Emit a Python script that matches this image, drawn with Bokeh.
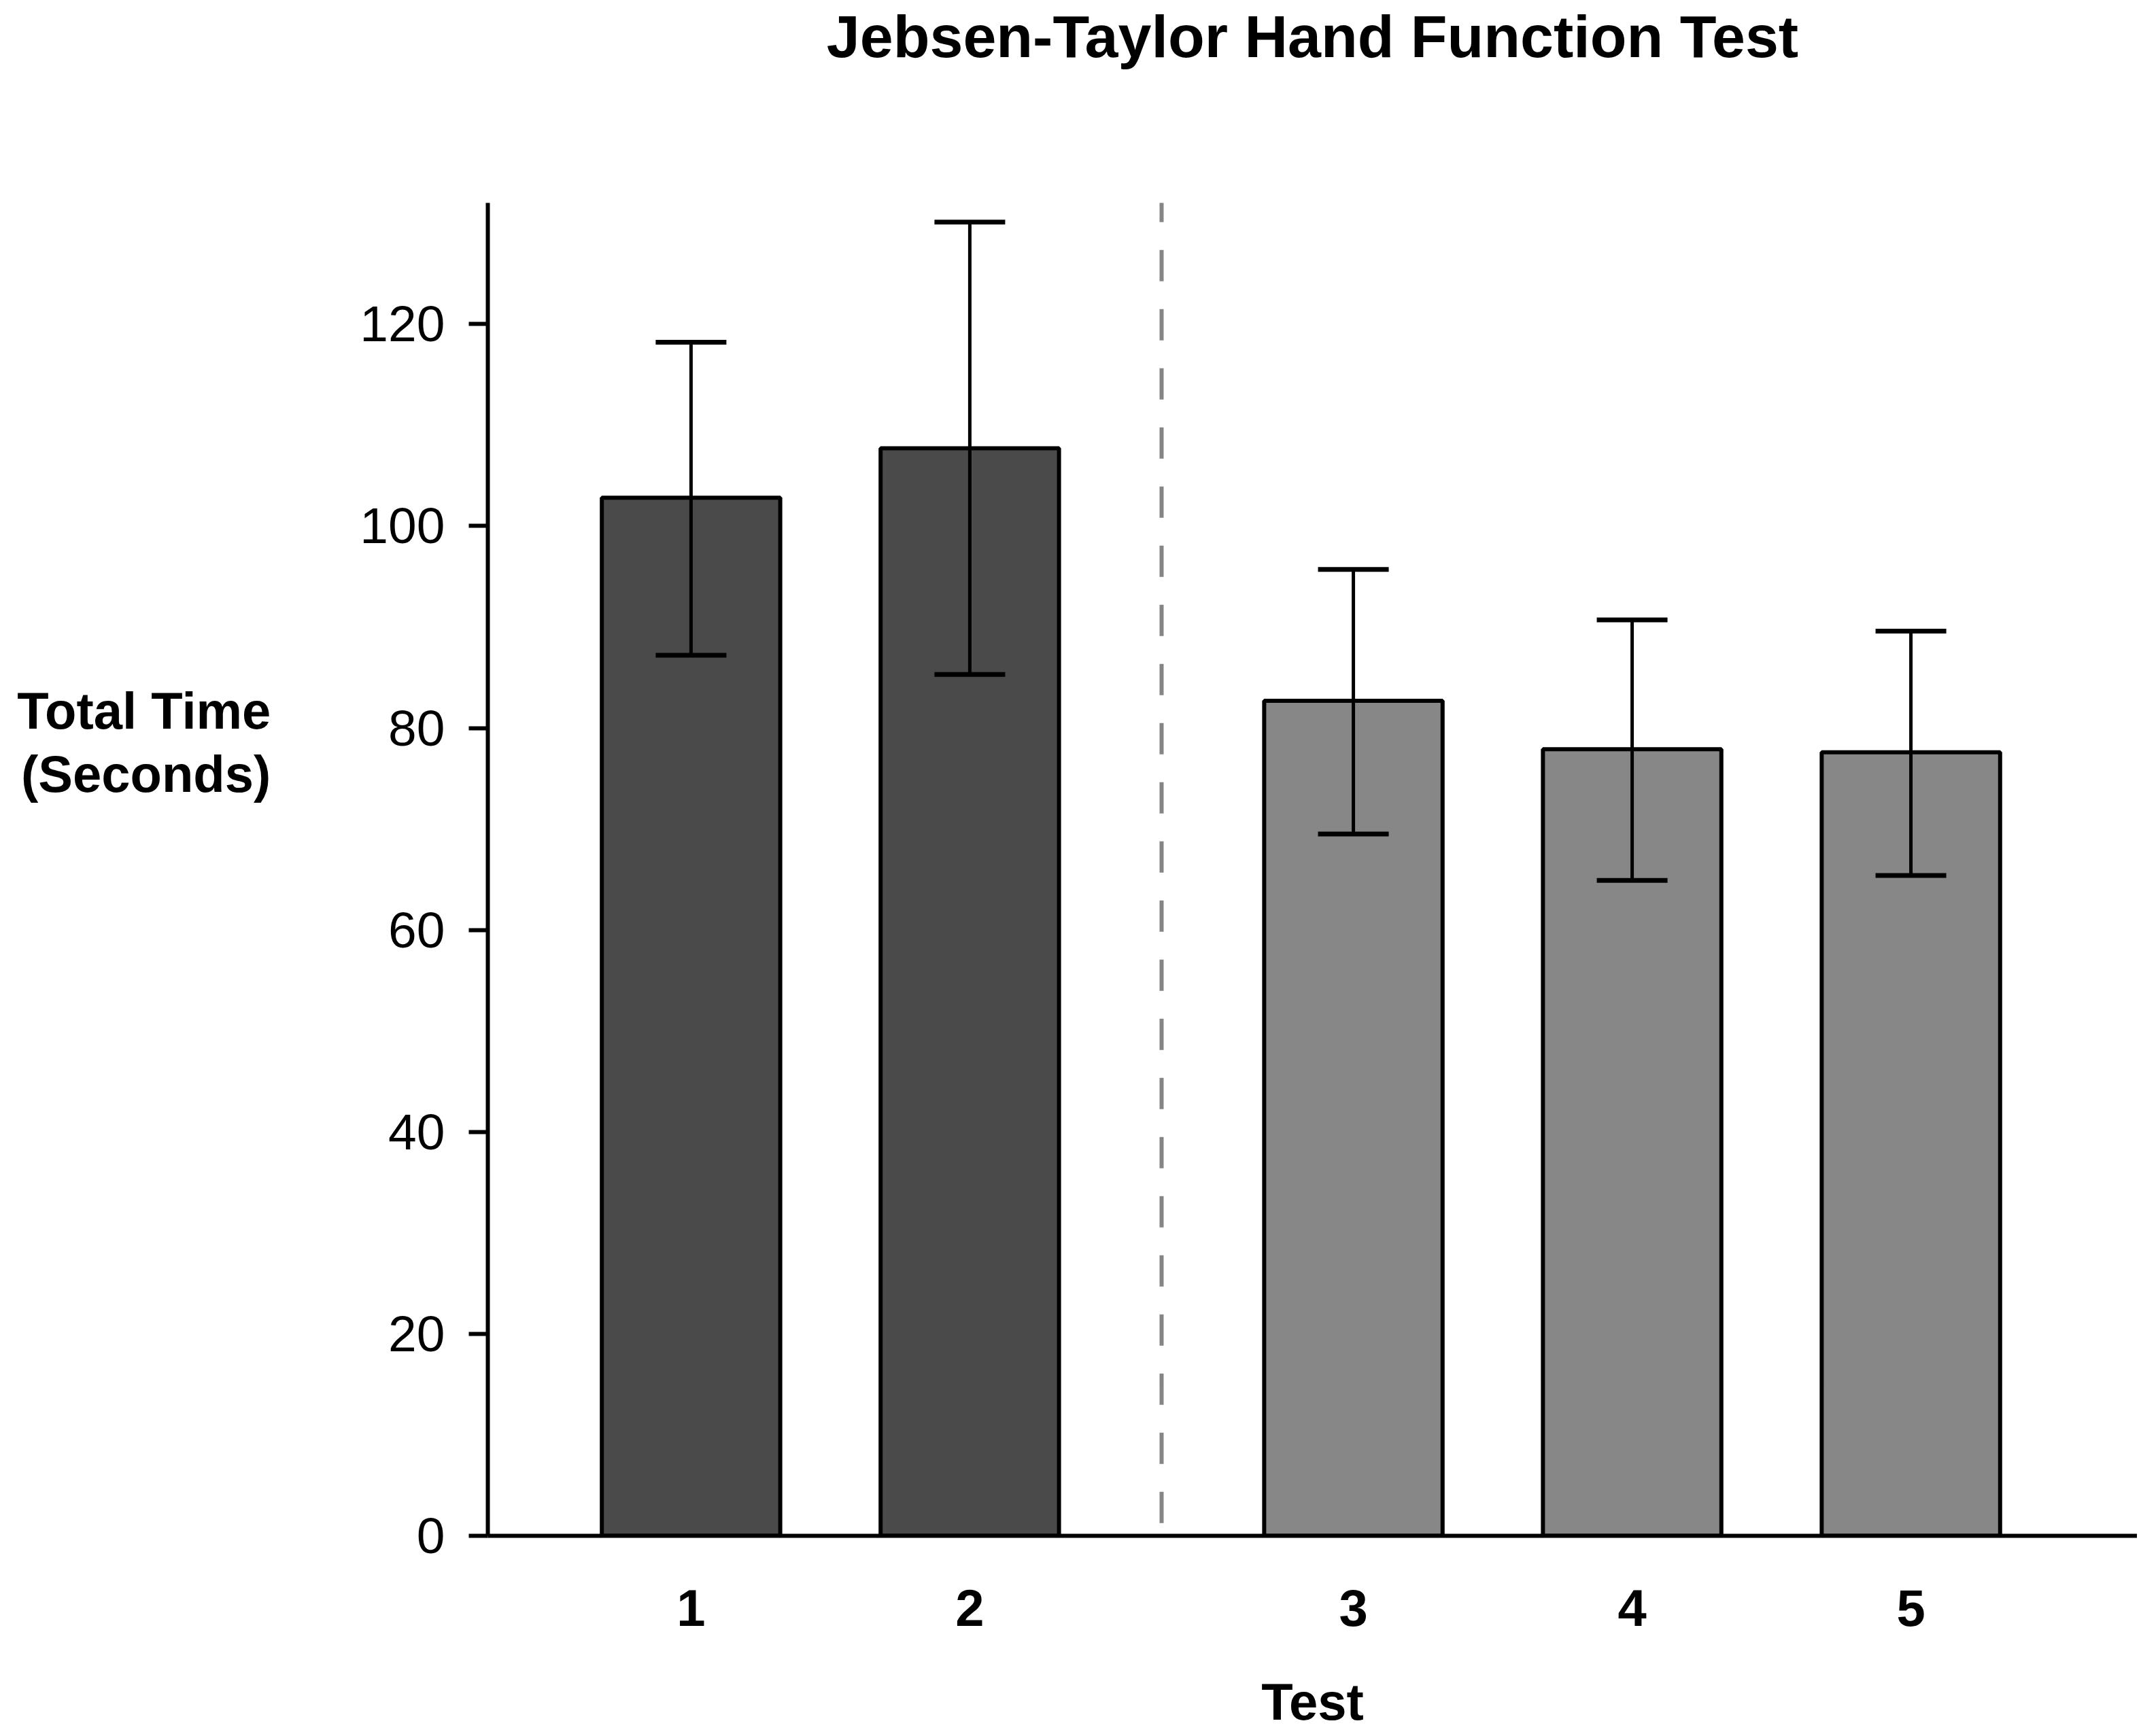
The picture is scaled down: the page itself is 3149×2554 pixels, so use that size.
from bokeh.plotting import figure
from bokeh.models import ColumnDataSource, Whisker, TeeHead, FixedTicker, LinearAxis
from bokeh.embed import file_html
from bokeh.resources import INLINE

# ---- data ----
tests = ["1", "2", "3", "4", "5"]
means = [102.8, 107.7, 82.7, 77.9, 77.6]
upper = [118.2, 130.1, 95.7, 90.7, 89.6]
lower = [87.2, 85.3, 69.5, 64.9, 65.4]
groups = ["A", "A", "B", "B", "B"]
y_ticks = [0, 20, 40, 60, 80, 100, 120]

# ---- layout constants ----
group_gap = 0.376
group_colors = {"A": "#4a4a4a", "B": "#878787"}
FONT = "Liberation Sans"
W, H = 3143, 2552

xpos = [i + 1 + (group_gap if g == "B" else 0.0) for i, g in enumerate(groups)]
colors = [group_colors[g] for g in groups]

src = ColumnDataSource(dict(x=xpos, top=means, upper=upper, lower=lower,
                            color=colors, label=tests))

p = figure(width=W, height=H, output_backend="svg", toolbar_location=None,
           x_range=(0.271, 6.188), y_range=(0, 132),
           min_border_left=717, min_border_right=0, min_border_top=297,
           min_border_bottom=H - 2259)
p.outline_line_color = None
p.xgrid.visible = False
p.ygrid.visible = False
p.background_fill_color = "white"

# bars
p.vbar(x="x", top="top", bottom=0, width=0.64, source=src,
       fill_color="color", line_color="black", line_width=6)

# error bars
w = Whisker(base="x", upper="upper", lower="lower", source=src,
            line_color="black", line_width=5,
            upper_head=TeeHead(size=104, line_color="black", line_width=7),
            lower_head=TeeHead(size=104, line_color="black", line_width=7))
w.level = "overlay"
p.add_layout(w)

# dashed separator between groups
xd = (xpos[1] + xpos[2]) / 2.0
p.segment(x0=[xd], y0=[133.2], x1=[xd], y1=[0.5], line_color="#858585",
          line_width=6, line_dash="46 41")

# y axis
ya = p.yaxis[0]
ya.ticker = FixedTicker(ticks=y_ticks)
ya.axis_line_width = 6
ya.axis_line_color = "black"
ya.major_tick_line_width = 6
ya.major_tick_line_color = "black"
ya.major_tick_out = 28
ya.major_tick_in = 0
ya.minor_tick_line_color = None
ya.major_label_standoff = 35
ya.major_label_text_font = FONT
ya.major_label_text_font_size = "75px"
ya.major_label_text_color = "black"
# horizontal label, raised above the frame centre by trailing blank lines
ya.axis_label = "Total Time\n(Seconds)\n \n \n \n "
ya.axis_label_orientation = "horizontal"
ya.axis_label_standoff = 128
ya.axis_label_text_font = FONT
ya.axis_label_text_font_size = "76px"
ya.axis_label_text_font_style = "bold"
ya.axis_label_text_color = "black"
ya.axis_label_text_line_height = 1.10

# x axis
xa = p.xaxis[0]
xa.ticker = FixedTicker(ticks=xpos)
xa.major_label_overrides = {x: t for x, t in zip(xpos, tests)}
xa.axis_line_width = 6
xa.axis_line_color = "black"
xa.major_tick_line_color = None
xa.minor_tick_line_color = None
xa.major_label_standoff = 73
xa.major_label_text_font = FONT
xa.major_label_text_font_size = "76px"
xa.major_label_text_font_style = "bold"
xa.major_label_text_color = "black"
xa.axis_label = "Test"
xa.axis_label_standoff = 66
xa.axis_label_text_font = FONT
xa.axis_label_text_font_size = "76px"
xa.axis_label_text_font_style = "bold"
xa.axis_label_text_color = "black"

# title drawn as the label of an empty axis above the frame
ta = LinearAxis(ticker=FixedTicker(ticks=[]), axis_line_color=None,
                major_tick_line_color=None, minor_tick_line_color=None,
                major_tick_out=0, major_tick_in=0, major_label_standoff=0,
                axis_label="Jebsen-Taylor Hand Function Test",
                axis_label_standoff=196,
                axis_label_text_font=FONT, axis_label_text_font_size="88px",
                axis_label_text_font_style="bold", axis_label_text_color="black")
p.add_layout(ta, "above")

open("out.html", "w").write(file_html(p, INLINE))
